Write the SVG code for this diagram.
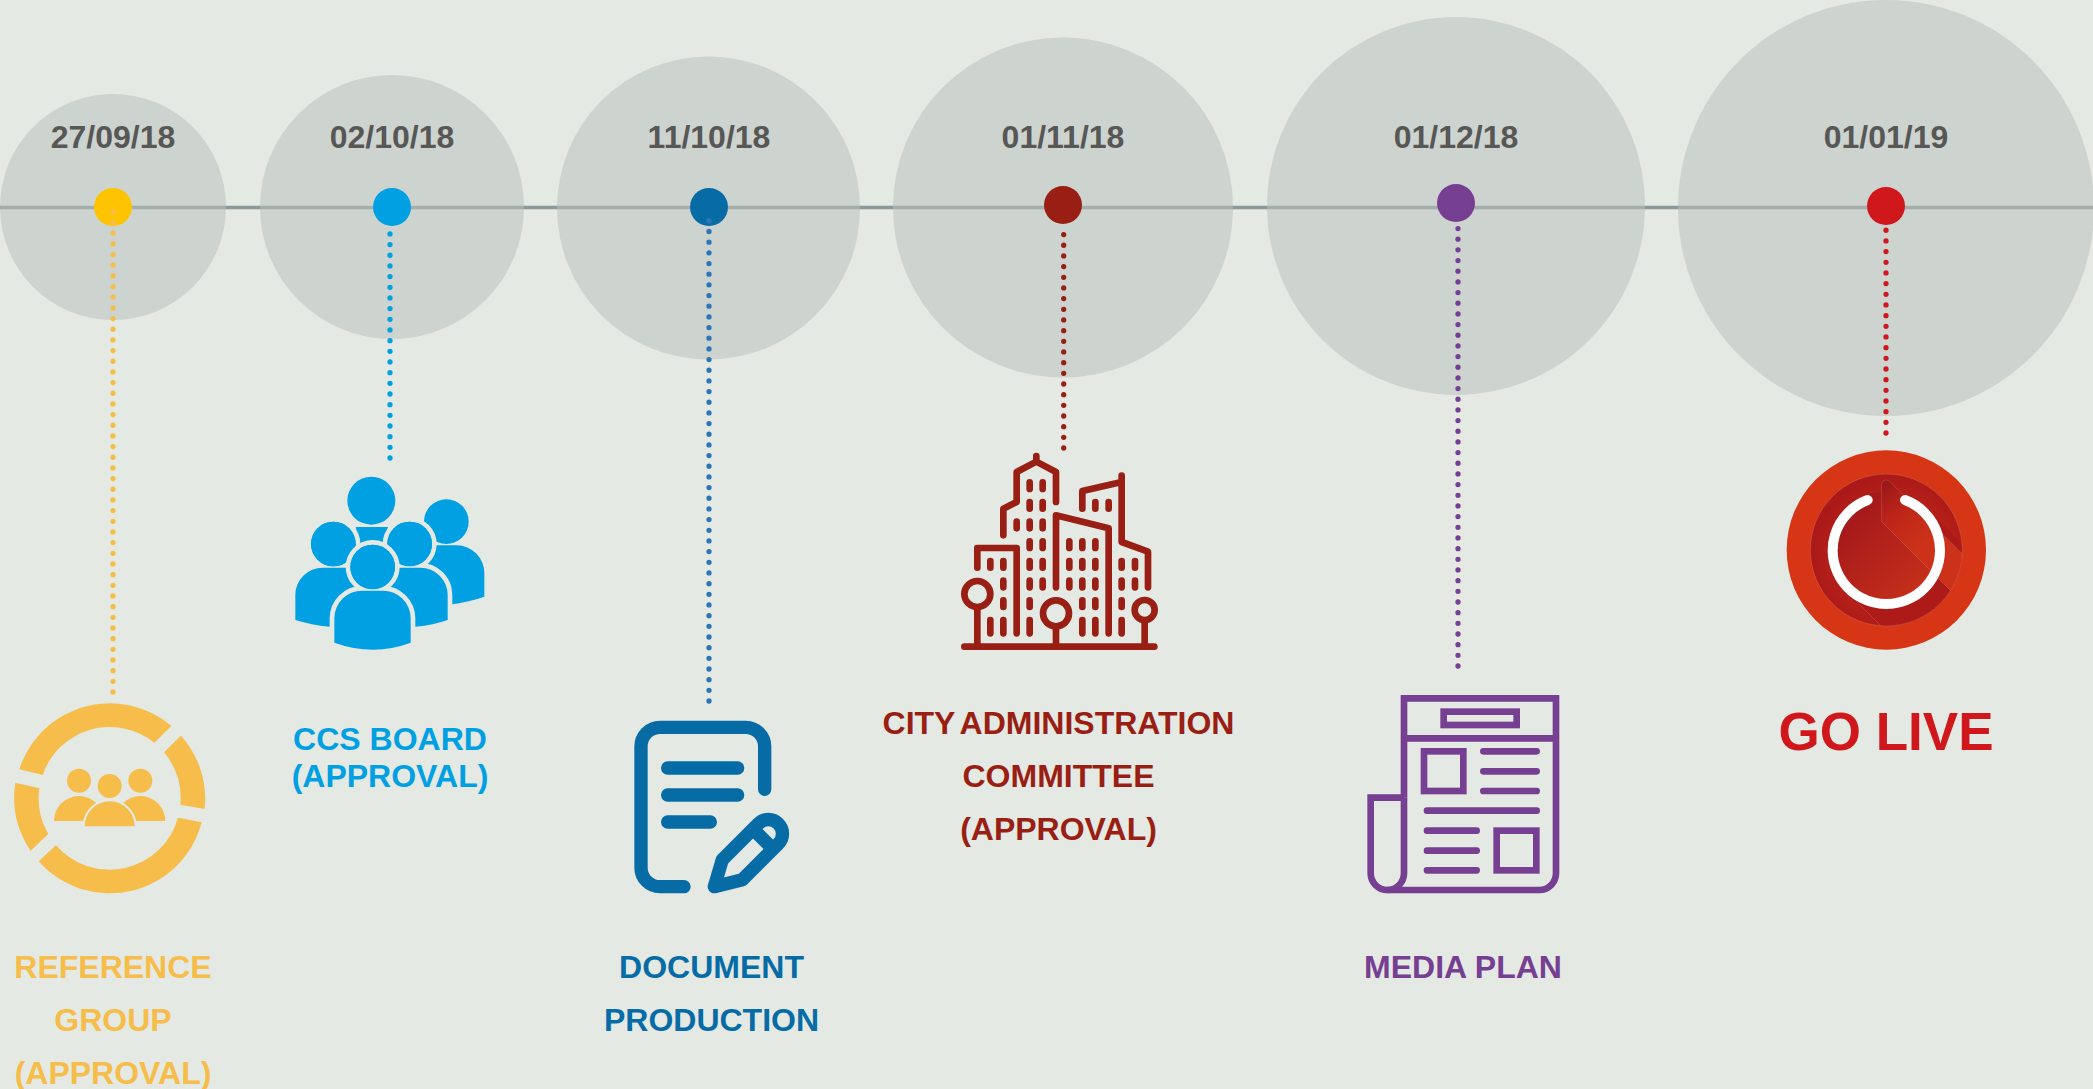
<svg xmlns="http://www.w3.org/2000/svg" width="2093" height="1089" viewBox="0 0 2093 1089">
<style>
text{font-family:"Liberation Sans",Arial,sans-serif;font-weight:700;text-anchor:middle}
.bub{fill:#b9bebb;fill-opacity:.53}
.date{font-size:32px;fill:#575756}
.lbl{font-size:32px}
.con{fill:none;stroke-width:5.300;stroke-linecap:round;stroke-dasharray:0 10.67}
.halo{stroke:#e4e9e3;stroke-width:28;paint-order:stroke;stroke-linejoin:round}
.ln{fill:none;stroke-linecap:round;stroke-linejoin:round}
</style>
<defs>
<radialGradient id="gDisc" gradientUnits="userSpaceOnUse" cx="370" cy="350" r="240"><stop offset="0" stop-color="#c72f1a"/><stop offset=".6" stop-color="#bb2319"/><stop offset="1" stop-color="#ab1a19"/></radialGradient>
<linearGradient id="gIn" gradientUnits="userSpaceOnUse" x1="230" y1="210" x2="470" y2="450"><stop offset="0" stop-color="#a1171a"/><stop offset="1" stop-color="#c8311b"/></linearGradient>
<linearGradient id="gSt" gradientUnits="userSpaceOnUse" x1="340" y1="130" x2="480" y2="290"><stop offset="0" stop-color="#98171a"/><stop offset=".45" stop-color="#bd2519"/><stop offset="1" stop-color="#cb3219"/></linearGradient>
<clipPath id="cDisc"><circle cx="349" cy="330" r="228"/></clipPath>
</defs>
<rect width="2093" height="1089" fill="#e4e9e3"/>
<line x1="0" y1="207.500" x2="2093" y2="207.500" stroke="#8b9a98" stroke-width="3.300"/>

<g id="node-reference-group">
<circle class="bub" cx="113" cy="207" r="113"/>
<text class="date" x="113" y="148">27/09/18</text>
<circle cx="113" cy="207" r="19" fill="#ffc400"/>
<g transform="translate(0 680) scale(.33333)" fill="#f6bd4b">
<path d="M58 268A285 285 0 0 1 514 138L463 188A213 213 0 0 0 128 285Z"/>
<path d="M543 167A285 285 0 0 1 614 387L541 374A213 213 0 0 0 492 217Z"/>
<path d="M605 427A285 285 0 0 1 116 544L168 496A213 213 0 0 0 534 413Z"/>
<path d="M92 512A285 285 0 0 1 46 308L118 325A213 213 0 0 0 145 462Z"/>
<circle cx="237" cy="302" r="36"/><circle cx="421" cy="302" r="36"/><circle cx="329" cy="318" r="36"/>
<path d="M162 423A75 75 0 0 1 312 423Z"/><path d="M346 423A75 75 0 0 1 496 423Z"/>
<path d="M254 439A75 75 0 0 1 404 439Z" stroke="#e4e9e3" stroke-width="12" paint-order="stroke"/>
</g>
<text class="lbl" fill="#f6bd4b"><tspan x="113" y="978">REFERENCE</tspan><tspan x="113" y="1031">GROUP</tspan><tspan x="113" y="1084">(APPROVAL)</tspan></text>
</g>

<g id="node-ccs-board">
<circle class="bub" cx="392" cy="207" r="132"/>
<text class="date" x="392" y="148">02/10/18</text>
<circle cx="392" cy="207" r="19" fill="#00a0e3"/>
<g transform="translate(270 450) scale(.33333)" fill="#00a0e3">
<circle cx="529" cy="215" r="67"/>
<path d="M480 286H560A83 83 0 0 1 643 369V440Q600 456 530 465H450V286Z"/>
<circle cx="304" cy="152" r="72"/>
<path d="M257 231H354L340 290H270Z"/>
<circle class="halo" cx="190" cy="282" r="67"/>
<path d="M76 510V435A82 82 0 0 1 158 353H300V530H178Q125 525 76 510Z"/>
<circle cx="190" cy="282" r="67"/>
<circle class="halo" cx="419" cy="282" r="67"/>
<path class="halo" d="M300 353H451A82 82 0 0 1 533 435V510Q490 525 437 530H300Z"/>
<circle cx="419" cy="282" r="67"/>
<circle class="halo" cx="308" cy="351" r="67"/>
<path class="halo" d="M193 578V505A83 83 0 0 1 276 422H339A83 83 0 0 1 422 505V578Q310 620 193 578Z"/>
<circle cx="308" cy="351" r="67"/>
</g>
<text class="lbl" fill="#00a0e3"><tspan x="390" y="750">CCS BOARD</tspan><tspan x="390" y="787">(APPROVAL)</tspan></text>
</g>

<g id="node-document-production">
<circle class="bub" cx="708.500" cy="208" r="151.500"/>
<text class="date" x="709" y="148">11/10/18</text>
<circle cx="709" cy="207" r="19" fill="#076ca6"/>
<g transform="translate(610 700) scale(.33333)" class="ln" stroke="#076ca6" stroke-width="40">
<path d="M222 560H150A57 57 0 0 1 93 503V139A57 57 0 0 1 150 82H407A57 57 0 0 1 464 139V268"/>
<path d="M173 204H383M173 285H383M173 366H301"/>
<path d="M313 560L337 479L445 371A42 42 0 0 1 505 431L397 539Z"/>
<path d="M441 399L478 436" style="stroke-linecap:butt"/>
</g>
<text class="lbl" fill="#076ca6"><tspan x="711.500" y="978">DOCUMENT</tspan><tspan x="711.500" y="1031">PRODUCTION</tspan></text>
</g>

<g id="node-city-administration">
<circle class="bub" cx="1063" cy="207.500" r="170"/>
<text class="date" x="1063" y="148">01/11/18</text>
<circle cx="1063" cy="205" r="19" fill="#991f14"/>
<g transform="translate(940 440) scale(.33333)" class="ln" stroke="#991f14" stroke-width="20">
<path d="M73 620H643"/>
<circle cx="112" cy="462" r="39"/><circle cx="348" cy="520" r="39"/><circle cx="614" cy="510" r="30"/>
<path d="M112 510V620M348 570V620M614 550V620"/>
<path d="M112 383V324H230V580"/>
<path d="M190 286V206L230 186V96L289 65L348 96V186M289 48V65"/>
<path d="M348 442V226L506 265V580"/>
<path d="M427 206V153L545 126M545 107V306L624 335V442"/>
<path d="M269 127V147M269 186V206M269 245V265M269 304V324M269 363V383M269 422V442M269 481V501M269 540V580"/>
<path d="M308 127V147M308 186V206M308 245V265M308 304V324M308 363V383M308 422V442"/>
<path d="M230 245V265M506 186V206M466 186V206"/>
<path d="M466 304V324M466 363V383M466 422V442M466 481V501M466 540V580"/>
<path d="M388 304V324M388 363V383M388 422V442"/>
<path d="M427 304V324M427 363V383M427 422V442M427 481V501M427 540V580"/>
<path d="M151 363V383M151 540V580M190 363V383M190 422V442M190 481V501M190 540V580"/>
<path d="M545 363V383M545 422V442M545 481V501M545 540V580M585 363V383M585 422V442"/>
</g>
<text class="lbl" fill="#991f14"><tspan x="1058.500" y="734" word-spacing="-3">CITY ADMINISTRATION</tspan><tspan x="1058.500" y="787">COMMITTEE</tspan><tspan x="1058.500" y="840">(APPROVAL)</tspan></text>
</g>

<g id="node-media-plan">
<circle class="bub" cx="1456" cy="206" r="189"/>
<text class="date" x="1456" y="148">01/12/18</text>
<circle cx="1456" cy="203" r="19" fill="#763f91"/>
<g transform="translate(1350 680) scale(.33333)" fill="none" stroke="#763f91" stroke-width="20">
<path d="M162 353V55H618V580A50 50 0 0 1 568 630H112"/>
<path d="M162 353H62V580A50 50 0 0 0 162 580V353"/>
<path d="M162 175H618"/>
<rect x="281" y="95" width="219" height="40"/>
<rect x="222" y="214" width="118" height="119"/>
<rect x="440" y="452" width="119" height="119"/>
<path stroke-linecap="round" d="M400 214H560M400 274H560M400 333H560M231 392H560M231 452H380M231 512H380M231 571H380"/>
</g>
<text class="lbl" fill="#763f91" x="1463" y="978">MEDIA PLAN</text>
</g>

<g id="node-go-live">
<circle class="bub" cx="1886" cy="208" r="208"/>
<text class="date" x="1886" y="148">01/01/19</text>
<circle cx="1886" cy="206" r="19" fill="#d0181c"/>
<g transform="translate(1770 440) scale(.33333)">
<circle cx="349" cy="330" r="299" fill="#d63516"/>
<circle cx="349" cy="330" r="228" fill="url(#gDisc)"/>
<g clip-path="url(#cDisc)">
<path d="M349 331L649 631" stroke="#ad1b18" stroke-width="350" fill="none"/>
<circle cx="349" cy="331" r="176" fill="url(#gIn)"/>
<path d="M335 245V133Q337 120 348 120Q355 120 362 127L600 365L600 510Z" fill="url(#gSt)"/>
<path d="M335 245V133Q337 120 348 120Q355 120 362 127L600 365M335 245L600 510M245 470L335 560" fill="none" stroke="#d8735f" stroke-opacity=".55" stroke-width="2"/>
</g>
<circle cx="349" cy="330" r="228" fill="none" stroke="#d8735f" stroke-opacity=".6" stroke-width="2"/>
<path d="M293 180A161 161 0 1 0 405 180" fill="none" stroke="#fff" stroke-width="30" stroke-linecap="round"/>
</g>
<text x="1886" y="750" font-size="53" fill="#d0181c">GO LIVE</text>
</g>

<g id="connectors">
<line class="con" x1="113" y1="692" x2="113" y2="205" stroke="#f6bd4b"/>
<line class="con" x1="390" y1="458" x2="390" y2="227" stroke="#00a0e3"/>
<line class="con" x1="709" y1="701" x2="709" y2="211" stroke="#2e75b6"/>
<line class="con" x1="1063.700" y1="448" x2="1063.700" y2="225" stroke="#991f14"/>
<line class="con" x1="1458" y1="666" x2="1458" y2="221" stroke="#763f91"/>
<line class="con" x1="1886" y1="433" x2="1886" y2="228" stroke="#d0181c"/>
</g>
</svg>
